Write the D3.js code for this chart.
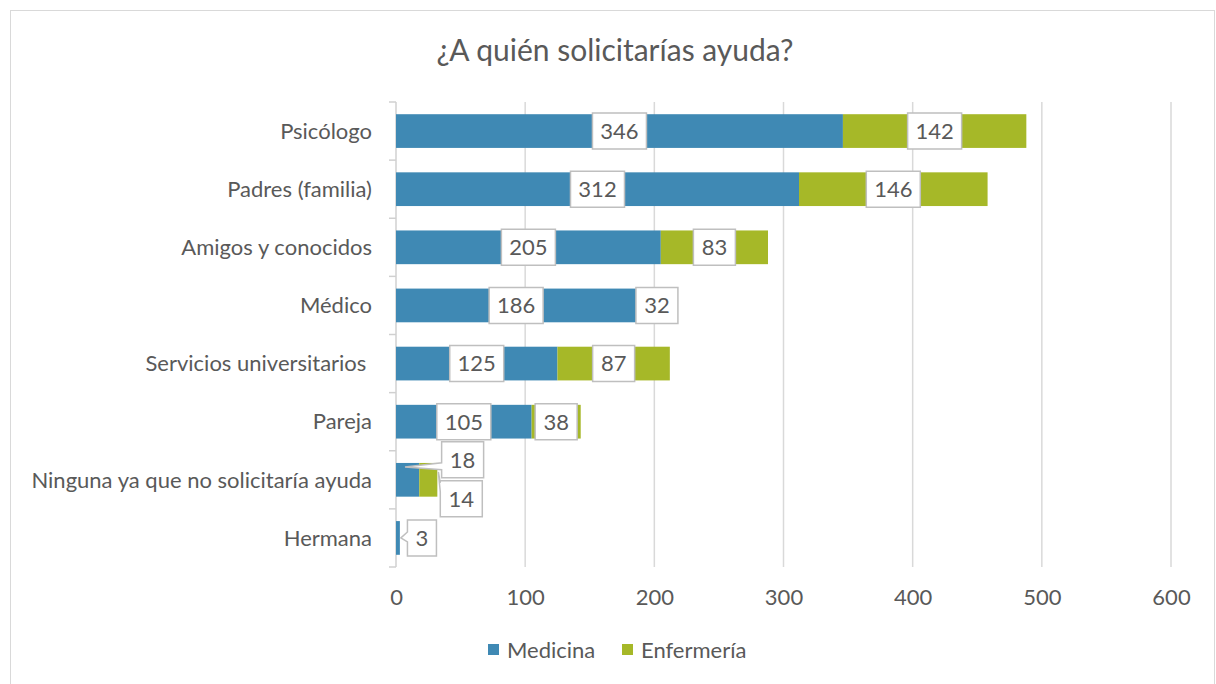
<!DOCTYPE html>
<html>
<head>
<meta charset="utf-8">
<script src="https://cdn.jsdelivr.net/npm/d3@7"></script>
<style>
  body { margin: 0; background: #fff; }
  text { font-family: Lato, "Open Sans", sans-serif; fill: #595959; }
</style>
</head>
<body>
<div id="chart-area"></div>
<script>
const categories = ["Psicólogo", "Padres (familia)", "Amigos y conocidos", "Médico",
  "Servicios universitarios ", "Pareja", "Ninguna ya que no solicitaría ayuda", "Hermana"]
const medicina = [346, 312, 205, 186, 125, 105, 18, 3]
const enfermeria = [142, 146, 83, 32, 87, 38, 14, 0]
const seriesNames = ["Medicina", "Enfermería"]
const xTicks = [0, 100, 200, 300, 400, 500, 600]

function main() {
  const W = 1216, H = 684
  const MARGIN = { LEFT: 396, RIGHT: 45, TOP: 102, BOTTOM: 117 }
  const colors = { "Medicina": "#3f89b4", "Enfermería": "#a6b828" }

  const svg = d3.select("#chart-area").append("svg")
    .attr("width", W)
    .attr("height", H)

  // chart border
  svg.append("rect")
    .attr("x", 10.5).attr("y", 10.5)
    .attr("width", W - 12).attr("height", H)
    .attr("fill", "none").attr("stroke", "#d9d9d9")

  svg.append("text")
    .attr("x", 615).attr("y", 61)
    .attr("text-anchor", "middle")
    .attr("font-size", "30px")
    .text("¿A quién solicitarías ayuda?")

  const x = d3.scaleLinear().domain([0, 600]).range([MARGIN.LEFT, W - MARGIN.RIGHT])
  const y = d3.scaleBand().domain(categories)
    .range([MARGIN.TOP, H - MARGIN.BOTTOM])
    .paddingInner(0.42).paddingOuter(0.21)

  // gridlines
  svg.append("g").selectAll("line")
    .data(xTicks.slice(1))
    .enter().append("line")
    .attr("x1", d => x(d)).attr("x2", d => x(d))
    .attr("y1", MARGIN.TOP).attr("y2", H - MARGIN.BOTTOM)
    .attr("stroke", "#d9d9d9").attr("stroke-width", 1.5)

  // x axis labels (no line)
  const xAxisCall = d3.axisBottom(x).tickValues(xTicks).tickSize(0).tickPadding(22)
  const xAxis = svg.append("g")
    .attr("transform", `translate(0, ${H - MARGIN.BOTTOM})`)
    .call(xAxisCall)
  xAxis.select(".domain").remove()
  xAxis.selectAll("text").attr("font-size", "22px").attr("font-family", null).attr("fill", "#595959")

  // y axis with ticks at band boundaries
  const step = y.step()
  const top0 = y(categories[0]) - y.paddingInner() * step / 2
  const bounds = d3.range(categories.length + 1).map(i => top0 + i * step)
  const yAx = svg.append("g")
  yAx.append("line")
    .attr("x1", x(0)).attr("x2", x(0))
    .attr("y1", MARGIN.TOP).attr("y2", H - MARGIN.BOTTOM)
    .attr("stroke", "#d0d0d0").attr("stroke-width", 1.5)
  yAx.selectAll(".tk").data(bounds).enter().append("line")
    .attr("class", "tk")
    .attr("x1", x(0) - 7).attr("x2", x(0))
    .attr("y1", d => d).attr("y2", d => d)
    .attr("stroke", "#d0d0d0").attr("stroke-width", 1.5)
  yAx.selectAll("text").data(categories).enter().append("text")
    .attr("x", 372)
    .attr("y", d => y(d) + y.bandwidth() / 2)
    .attr("dy", "0.35em")
    .attr("text-anchor", "end")
    .attr("font-size", "22px")
    .style("white-space", "pre")
    .text(d => d)

  // stacked bars
  const rows = categories.map((c, i) => ({ cat: c, Medicina: medicina[i], "Enfermería": enfermeria[i] }))
  const stacked = d3.stack().keys(seriesNames)(rows)
  const layers = svg.append("g").selectAll("g")
    .data(stacked).enter().append("g")
    .attr("fill", d => colors[d.key])
  layers.selectAll("rect")
    .data(d => d.filter(s => s[1] > s[0]))
    .enter().append("rect")
    .attr("x", d => x(d[0]))
    .attr("y", d => y(d.data.cat))
    .attr("width", d => x(d[1]) - x(d[0]))
    .attr("height", y.bandwidth())

  // data labels: callout offsets for the small bars
  const callouts = {
    "Ninguna ya que no solicitaría ayuda|Medicina": { dx: 55, dy: -20, tip: "top" },
    "Ninguna ya que no solicitaría ayuda|Enfermería": { dx: 33, dy: 19, tip: "end" },
    "Hermana|Medicina": { dx: 24, dy: 0, tip: "mid" }
  }
  const labelG = svg.append("g")
  const BH = 36
  stacked.forEach(layer => {
    layer.forEach(s => {
      const v = s[1] - s[0]
      if (v <= 0) return
      const cy = y(s.data.cat) + y.bandwidth() / 2
      let cx = (x(s[0]) + x(s[1])) / 2
      const co = callouts[s.data.cat + "|" + layer.key]
      const g = labelG.append("g")
      const t = g.append("text")
        .attr("text-anchor", "middle")
        .attr("dy", "0.36em")
        .attr("font-size", "22px")
        .text(v)
      const tw = t.node().getComputedTextLength()
      const bw = Math.round(tw + 16)
      let bx = cx, by = cy
      if (co) { bx = cx + co.dx; by = cy + co.dy }
      const x0 = bx - bw / 2, x1 = bx + bw / 2, y0 = by - BH / 2, y1 = by + BH / 2
      let path
      if (co) {
        let tx, ty, b1, b2
        if (co.tip === "top") { tx = x(s[0]) + 9; ty = y(s.data.cat) + 4; b1 = by + 3; b2 = by + 10 }
        else if (co.tip === "end") { tx = x(s[1]) + 1; ty = y(s.data.cat) + 9; b1 = y0 + 2; b2 = y0 + 11 }
        else { tx = x(s[1]) + 1; ty = cy; b1 = cy - 6; b2 = cy + 4 }
        path = `M${x0},${y0}H${x1}V${y1}H${x0}V${b2}L${tx},${ty}L${x0},${b1}Z`
      } else {
        path = `M${x0},${y0}H${x1}V${y1}H${x0}Z`
      }
      g.insert("path", "text")
        .attr("d", path)
        .attr("fill", "#fff")
        .attr("stroke", "#bfbfbf")
        .attr("stroke-width", 1.5)
      t.attr("x", bx).attr("y", by)
    })
  })

  // legend
  const legend = svg.append("g").attr("transform", "translate(488, 650)")
  const legX = [0, 134]
  seriesNames.forEach((name, i) => {
    const row = legend.append("g").attr("transform", `translate(${legX[i]}, 0)`)
    row.append("rect").attr("x", 0).attr("y", -6).attr("width", 11).attr("height", 11)
      .attr("fill", colors[name])
    row.append("text").attr("x", 19).attr("y", 0).attr("dy", "0.35em")
      .attr("font-size", "22px")
      .text(name)
  })
}

main()
</script>
</body>
</html>
